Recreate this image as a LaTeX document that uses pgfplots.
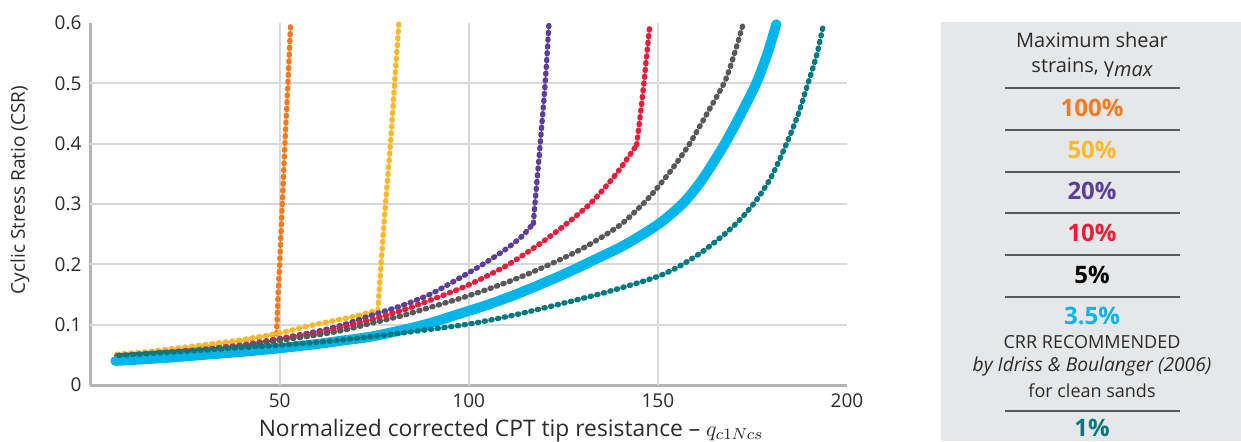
\documentclass[border=0pt]{standalone}
\usepackage{fontspec}
\setmainfont{Open Sans}
\usepackage{pgfplots}
\pgfplotsset{compat=1.18}
\definecolor{cOrange}{HTML}{F47B20}
\definecolor{cYellow}{HTML}{FDB92E}
\definecolor{cPurple}{HTML}{5B3F99}
\definecolor{cRed}{HTML}{ED1C3A}
\definecolor{cGrey}{HTML}{58595B}
\definecolor{cCyan}{HTML}{00B5EA}
\definecolor{cTeal}{HTML}{007A80}
\definecolor{legbg}{HTML}{E6E7E8}
\definecolor{gridc}{HTML}{D9D9D9}
\definecolor{axisc}{HTML}{B5B5B5}
\definecolor{txt}{HTML}{2B2B2B}
\begin{document}
\begin{tikzpicture}
\useasboundingbox (-45.25pt,-28pt) rectangle (575.25pt,192.5pt);
\fill[legbg] (425.25pt,-28pt) rectangle (575.25pt,181.5pt);
\begin{axis}[
  at={(0pt,0pt)}, anchor=south west,
  scale only axis, width=378.25pt, height=181pt,
  xmin=0, xmax=200, ymin=0, ymax=0.6,
  clip=false,
  axis x line*=bottom, axis y line*=left,
  axis line style={-, draw=axisc, line width=1.5pt},
  major tick length=0pt,
  xtick={50,100,150,200}, xticklabels={50,100,150,200},
  ytick={0,0.1,0.2,0.3,0.4,0.5,0.6}, yticklabels={0,0.1,0.2,0.3,0.4,0.5,0.6},
  tick label style={font=\fontsize{9.5}{11}\selectfont, text=txt},
  xticklabel style={yshift=-1pt},
  yticklabel style={xshift=-1pt},
  dots/.style={line width=2.7pt, line cap=round, line join=round, dash pattern=on 0.6pt off 2.8pt, smooth, tension=0.45},
]
% grid
\foreach \yy in {0.1,0.2,0.3,0.4,0.5} {\edef\tmp{\noexpand\draw[gridc, line width=1pt] (axis cs:0,\yy) -- (axis cs:200,\yy);}\tmp}
\foreach \xx in {50,100,150} {\edef\tmp{\noexpand\draw[gridc, line width=1pt] (axis cs:\xx,0) -- (axis cs:\xx,0.6);}\tmp}
% 100%
\addplot[dots, cOrange] coordinates {(7,0.050) (15,0.054) (20,0.057) (30,0.064) (40,0.074) (49.2,0.085)};
\addplot[dots, cOrange] coordinates {(49.2,0.085) (49.6,0.15) (50.0,0.2) (50.7,0.3) (51.4,0.4) (52.2,0.5) (52.9,0.598)};
% 50%
\addplot[dots, cYellow] coordinates {(7,0.051) (15,0.055) (20,0.059) (28,0.065) (40,0.075) (50,0.086) (56.4,0.096) (63,0.105) (70,0.114) (76,0.124)};
\addplot[dots, cYellow] coordinates {(76,0.124) (76.8,0.2) (78,0.3) (79.3,0.4) (80.4,0.5) (81.5,0.598)};
% 20%
\addplot[dots, cPurple] coordinates {(7,0.048) (20,0.054) (30,0.059) (40,0.066) (50,0.077) (60,0.089) (67,0.100) (74,0.115) (83,0.133) (90,0.151) (95,0.168) (100,0.186) (105,0.205) (110,0.226) (114,0.246) (117.1,0.268)};
\addplot[dots, cPurple] coordinates {(117.1,0.268) (117.5,0.3) (118.9,0.4) (120.2,0.5) (121.2,0.598)};
% 10%
\addplot[dots, cRed] coordinates {(7,0.048) (20,0.054) (30,0.059) (40,0.066) (50,0.076) (60,0.086) (67,0.096) (74,0.108) (83,0.125) (90,0.141) (100,0.166) (110,0.198) (119,0.235) (126,0.268) (132.5,0.303) (139,0.350) (144.4,0.398)};
\addplot[dots, cRed] coordinates {(144.4,0.398) (145.4,0.45) (146.3,0.5) (147.1,0.55) (147.9,0.598)};
% 5%
\addplot[dots, cGrey] coordinates {(7,0.047) (20,0.053) (30,0.058) (40,0.065) (50,0.074) (60,0.083) (67,0.091) (74,0.102) (83,0.116) (90,0.129) (100,0.148) (110,0.170) (119,0.193) (130,0.226) (140,0.265) (146.5,0.303) (150,0.328) (154,0.36) (158.4,0.40) (163,0.45) (167.7,0.503) (170.3,0.55) (172.5,0.598)};
% 3.5% (CRR)
\addplot[cCyan, line width=5pt, line cap=round, line join=round, smooth, tension=0.5] coordinates {(6.6,0.040) (15,0.043) (20,0.045) (28,0.049) (40,0.055) (50,0.061) (60,0.068) (67,0.074) (74,0.080) (83,0.092) (90,0.103) (98,0.119) (105,0.133) (112,0.149) (119,0.167) (126,0.186) (133,0.207) (140,0.228) (145,0.246) (150,0.266) (154,0.286) (157.5,0.307) (162,0.343) (167.7,0.4) (172,0.45) (176,0.5) (179,0.55) (181.3,0.598)};
% 1%
\addplot[dots, cTeal] coordinates {(7.5,0.049) (15,0.052) (20,0.054) (28,0.057) (40,0.062) (50,0.066) (62,0.072) (74,0.080) (87,0.090) (100,0.101) (112,0.116) (124,0.134) (137,0.155) (150,0.180) (156,0.198) (162,0.222) (168,0.252) (172,0.276) (176,0.306) (180,0.345) (184,0.4) (187,0.447) (189.7,0.5) (192,0.547) (193.8,0.598)};
\end{axis}
% axis labels
\node[rotate=90, font=\fontsize{9.5}{11}\selectfont, text=txt] at (-35.25pt,97.5pt) {Cyclic Stress Ratio (CSR)};
\node[font=\fontsize{11.4}{13}\selectfont, text=txt] at (210.25pt,-22.6pt) {Normalized corrected CPT tip resistance – $q_{c1Ncs}$};
% legend
\begin{scope}[font=\fontsize{10}{12}\selectfont, text=txt]
\node at (500.75pt,172.5pt) {Maximum shear};
\node at (500.75pt,158.5pt) {strains, γ{\itshape\raisebox{-0.3ex}{max}}};
\foreach \yy in {148.5,127.5,106.5,86,65,44,-13} {\draw[cGrey, line width=0.75pt] (457.25pt,\yy pt) -- (544.75pt,\yy pt);}
\node[font=\fontsize{12}{14}\selectfont\bfseries, text=cOrange] at (500.75pt,138.5pt) {100\%};
\node[font=\fontsize{12}{14}\selectfont\bfseries, text=cYellow] at (500.75pt,117.5pt) {50\%};
\node[font=\fontsize{12}{14}\selectfont\bfseries, text=cPurple] at (500.75pt,97pt) {20\%};
\node[font=\fontsize{12}{14}\selectfont\bfseries, text=cRed] at (500.75pt,76pt) {10\%};
\node[font=\fontsize{12}{14}\selectfont\bfseries, text=black] at (500.75pt,55pt) {5\%};
\node[font=\fontsize{12}{14}\selectfont\bfseries, text=cCyan] at (500.75pt,34.5pt) {3.5\%};
\node[font=\fontsize{9}{11}\selectfont] at (500.75pt,21.5pt) {CRR RECOMMENDED};
\node[font=\fontsize{9.6}{11}\selectfont\itshape] at (500.75pt,9pt) {by Idriss \& Boulanger (2006)};
\node[font=\fontsize{9}{11}\selectfont] at (500.75pt,-3pt) {for clean sands};
\node[font=\fontsize{12}{14}\selectfont\bfseries, text=cTeal] at (500.75pt,-21.5pt) {1\%};
\end{scope}
\end{tikzpicture}
\end{document}
